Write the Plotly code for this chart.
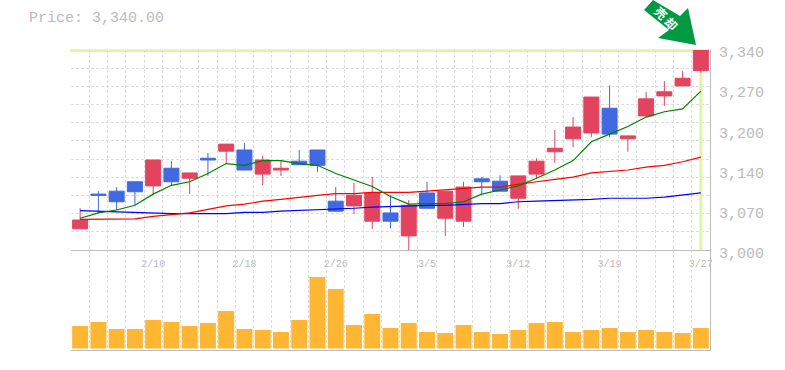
import plotly.graph_objects as go

index = list(range(35))
opens = [3036,3095,3100,3116,3109,3139,3122,3156,3168,3170,3129,3136,3151,3170,3083,3075,3049,3063,3024,3097,3054,3049,3121,3117,3088,3129,3167,3189,3199,3241,3189,3228,3262,3279,3305]
highs = [3071,3100,3107,3116,3153,3151,3131,3165,3180,3182,3160,3153,3170,3170,3107,3114,3124,3093,3085,3116,3100,3116,3124,3127,3126,3156,3204,3226,3260,3280,3194,3269,3287,3304,3340]
lows = [3036,3063,3068,3076,3095,3110,3095,3126,3146,3136,3110,3126,3145,3133,3065,3061,3036,3037,3000,3071,3024,3039,3095,3100,3070,3122,3148,3175,3192,3192,3167,3226,3245,3279,3301]
closes = [3051,3093,3082,3099,3153,3116,3131,3153,3180,3136,3153,3139,3145,3144,3066,3093,3097,3049,3076,3071,3100,3107,3116,3100,3126,3151,3173,3209,3260,3197,3194,3257,3269,3292,3340]
ma_green = [3054,3063,3068,3076,3095,3110,3116,3130,3147,3144,3152,3152,3147,3144,3130,3119,3108,3091,3078,3079,3079,3082,3095,3102,3109,3122,3136,3152,3184,3197,3210,3226,3235,3240,3270]
ma_red = [3052,3052,3052,3053,3057,3060,3063,3069,3075,3078,3083,3086,3090,3093,3096,3096,3098,3098,3098,3100,3102,3105,3107,3107,3112,3116,3120,3124,3131,3133,3136,3141,3144,3150,3158]
ma_blue = [3067,3066,3065,3063,3062,3062,3062,3062,3062,3064,3064,3066,3067,3069,3069,3071,3073,3074,3076,3076,3076,3078,3079,3079,3082,3083,3084,3084,3086,3088,3088,3088,3090,3093,3097]
volume = [22.5,26.5,19.5,19.5,28.5,26.5,22.5,25.5,37.5,19.5,18.5,16.5,28.5,71.5,59.5,23.5,34.5,20.5,25.5,16.5,15.5,23.5,16.5,14.5,18.5,25.5,26.5,16.5,18.5,20.5,16.5,18.5,16.5,15.5,20.5]
date_ticks = [4, 9, 14, 19, 24, 29, 34]
date_labels = ["2/10", "2/18", "2/26", "3/5", "3/12", "3/19", "3/27"]
price_ticks = [3340, 3272, 3204, 3136, 3068, 3000]
price_labels = ["3,340", "3,270", "3,200", "3,140", "3,070", "3,000"]
title_text = "Price: 3,340.00"
arrow_text = "売却"

W, H = 785, 370
GRID = "#dddddd"
AXIS = "#bbbbbb"
FONT = "Liberation Mono"
HIGHLIGHT = "#e1f4a6"
RED = "#e2445f"
BLUE = "#4169e1"
ARROW = "#009944"
DASH = "3px,2px"
px = lambda x: x / W
py = lambda y: 1 - y / H

x_edges = [i - 0.5 for i in index] + [index[-1] + 0.5]
y_grid = [3000 + 340 * k / 11 for k in range(12)]

fig = go.Figure()
for vals, col in ((ma_blue, "#0000ff"), (ma_red, "#ff0000"), (ma_green, "#008000")):
    fig.add_trace(go.Scatter(x=index, y=vals, mode="lines", line=dict(color=col, width=1.2), showlegend=False, hoverinfo="skip"))
fig.add_trace(go.Candlestick(
    x=index, open=opens, high=highs, low=lows, close=closes, whiskerwidth=0, showlegend=False,
    increasing=dict(line=dict(color=RED, width=1), fillcolor=RED),
    decreasing=dict(line=dict(color=BLUE, width=1), fillcolor=BLUE)))
fig.add_trace(go.Bar(x=index, y=volume, xaxis="x2", yaxis="y2", width=0.875, marker=dict(color="#ffb733", line_width=0), showlegend=False))

xcommon = dict(range=[-0.5, 34.5], domain=[px(71), px(710)], showgrid=False, zeroline=False,
               minor=dict(tickmode="array", tickvals=x_edges, showgrid=True, gridcolor=GRID, griddash=DASH, gridwidth=1, ticks=""))
fig.update_layout(
    width=W, height=H, autosize=False, margin=dict(l=0, r=0, t=0, b=0, pad=0, autoexpand=False),
    paper_bgcolor="white", plot_bgcolor="white", boxgap=0.18, boxgroupgap=0, bargap=0.125, showlegend=False, hovermode=False,
    xaxis=dict(**xcommon, anchor="y", rangeslider=dict(visible=False), tickmode="array", tickvals=date_ticks, ticktext=date_labels,
               tickfont=dict(family=FONT, size=10, color=AXIS), ticks="outside", ticklen=4, tickcolor="rgba(0,0,0,0)",
               showline=True, linecolor=AXIS, linewidth=1),
    xaxis2=dict(**xcommon, anchor="y2", showticklabels=False, ticks="", showline=True, linecolor=AXIS, linewidth=1),
    yaxis=dict(range=[3000, 3340], domain=[py(250), py(50)], anchor="x", side="right", tickmode="array", tickvals=y_grid,
               showticklabels=False, ticks="", showgrid=True, gridcolor=GRID, griddash=DASH, gridwidth=1, zeroline=False,
               showline=True, linecolor=AXIS, linewidth=1),
    yaxis2=dict(range=[-1.5, 98.5], domain=[py(350), py(250)], anchor="x2", side="right", showticklabels=False, ticks="",
                showgrid=False, zeroline=False, showline=True, linecolor=AXIS, linewidth=1),
    shapes=[
        dict(type="rect", xref="paper", x0=px(70), x1=px(709), yref="paper", y0=py(52), y1=py(49.3),
             fillcolor=HIGHLIGHT, line_width=0, layer="between"),
        dict(type="line", xref="x", x0=index[-1], x1=index[-1], yref="y", y0=3000, y1=3340,
             line=dict(color=HIGHLIGHT, width=3), layer="between"),
        dict(type="path", xref="paper", yref="paper", layer="above", fillcolor=ARROW, line_width=0,
             path="M {} {} L {} {} L {} {} L {} {} L {} {} L {} {} L {} {} Z".format(
                 px(644), py(10), px(653), py(0), px(680), py(16), px(688), py(8), px(696), py(45), px(658), py(38), px(669), py(30))),
    ],
    annotations=[
        dict(text=title_text, xref="paper", yref="paper", x=px(27), y=py(18.5), xanchor="left", yanchor="middle", showarrow=False,
             font=dict(family=FONT, size=15, color=AXIS)),
        dict(text="<b>" + arrow_text[0] + "</b>", xref="paper", yref="paper", x=px(661), y=py(13), xanchor="center", yanchor="middle", showarrow=False,
             textangle=45, font=dict(family="Noto Sans CJK JP", size=12, color="white")),
        dict(text="<b>" + arrow_text[1] + "</b>", xref="paper", yref="paper", x=px(672), y=py(23), xanchor="center", yanchor="middle", showarrow=False,
             textangle=45, font=dict(family="Noto Sans CJK JP", size=12, color="white")),
    ] + [
        dict(text=t, xref="paper", yref="y", x=px(717), y=v, yshift=-4, xanchor="left", yanchor="middle", showarrow=False,
             font=dict(family=FONT, size=15, color=AXIS))
        for v, t in zip(price_ticks, price_labels)
    ],
)
fig.write_html("out.html", config={"displayModeBar": False}, post_script="document.body.style.margin='0';")
